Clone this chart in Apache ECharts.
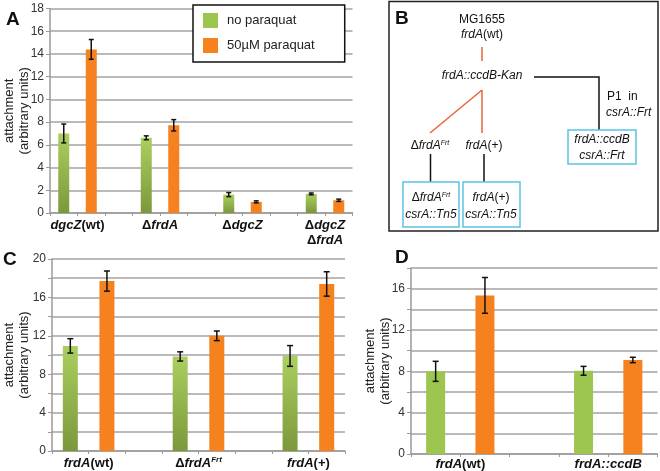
<!DOCTYPE html>
<html style="height: 100%">
<head>
<meta charset="utf-8">
<style type="text/css">
* { margin: 0; padding: 0; }
</style>
</head>
<body style="height: 100%; margin: 0; background: #fff">
<div id="main" style="width: 660px; height: 471px"></div>
<script type="text/javascript" src="https://cdn.jsdelivr.net/npm/echarts@6/dist/echarts.min.js"></script>
<script type="text/javascript">
// ---- data ----
var seriesNames = ['no paraquat', '50\u00b5M paraquat'];

// panel A
var labelsA = ['{bi|dgcZ}{b|(wt)}', '{b|\u0394}{bi|frdA}', '{b|\u0394}{bi|dgcZ}', '{b|\u0394}{bi|dgcZ}\n{b|\u0394}{bi|frdA}'];
var noParaA = [7.0, 6.62, 1.62, 1.68];
var noParaErrA = [0.83, 0.17, 0.18, 0.08];
var paraA = [14.4, 7.72, 0.98, 1.12];
var paraErrA = [0.87, 0.5, 0.09, 0.1];

// panel C
var labelsC = ['{bi|frdA}{b|(wt)}', '{b|\u0394}{bi|frdA}{sup|Frt}', '{bi|frdA}{b|(+)}'];
var noParaC = [10.95, 9.85, 9.9];
var noParaErrC = [0.75, 0.48, 1.08];
var paraC = [17.7, 12.0, 17.4];
var paraErrC = [1.05, 0.5, 1.27];

// panel D
var labelsD = ['{bi|frdA}{b|(wt)}', '{bi|frdA::ccdB}'];
var noParaD = [8.0, 8.05];
var noParaErrD = [0.97, 0.43];
var paraD = [15.35, 9.1];
var paraErrD = [1.73, 0.26];

// ---- helpers ----
var FONT = 'Liberation Sans';
var greenGrad = new echarts.graphic.LinearGradient(0, 0, 0, 1, [
  { offset: 0, color: '#abcf5f' },
  { offset: 1, color: '#7b983b' }
]);
var greenFlat = '#9dc651';
var orange = '#f5811f';

var richX = {
  b: { fontFamily: FONT, fontWeight: 'bold', fontSize: 13, color: '#111', lineHeight: 15 },
  bi: { fontFamily: FONT, fontWeight: 'bold', fontStyle: 'italic', fontSize: 13, color: '#111', lineHeight: 15 },
  sup: { fontFamily: FONT, fontWeight: 'bold', fontStyle: 'italic', fontSize: 8, color: '#111', lineHeight: 8, verticalAlign: 'top' }
};

// slot layout: each group = green slot, orange slot, empty slot
function barData(vals, off) {
  return vals.map(function (v, i) { return [3 * i + off, v]; });
}
function errData(vals, errs, off) {
  return vals.map(function (v, i) { return [3 * i + off, v - errs[i], v + errs[i]]; });
}
function errItem(cap) {
  return function (params, api) {
    var x = api.value(0);
    var p1 = api.coord([x, api.value(2)]);
    var p2 = api.coord([x, api.value(1)]);
    var s = { stroke: '#111', lineWidth: 1.5 };
    return {
      type: 'group',
      children: [
        { type: 'line', shape: { x1: p1[0], y1: p1[1], x2: p2[0], y2: p2[1] }, style: s },
        { type: 'line', shape: { x1: p1[0] - cap, y1: p1[1], x2: p1[0] + cap, y2: p1[1] }, style: s },
        { type: 'line', shape: { x1: p2[0] - cap, y1: p2[1], x2: p2[0] + cap, y2: p2[1] }, style: s }
      ]
    };
  };
}

function xAxisFor(idx, slots, labels, margin) {
  return {
    type: 'value', gridIndex: idx, min: 0, max: slots, interval: 1,
    splitLine: { show: false },
    axisLine: { lineStyle: { color: '#9a9a9a', width: 1.5 } },
    axisTick: { show: true, length: 3, lineStyle: { color: '#9a9a9a' } },
    axisLabel: {
      margin: margin,
      showMinLabel: true, showMaxLabel: true,
      formatter: function (v) {
        if (v % 3 === 1) return labels[(v - 1) / 3] || '';
        return '';
      },
      rich: richX
    }
  };
}
function yAxisFor(idx, max, every, nameGap) {
  return {
    type: 'value', gridIndex: idx, min: 0, max: max, interval: 2,
    name: 'attachment\n(arbitrary units)', nameLocation: 'middle', nameGap: nameGap,
    nameMoveOverlap: false,
    nameTextStyle: { fontFamily: FONT, fontSize: 13, color: '#222', lineHeight: 15 },
    axisLine: { show: true, lineStyle: { color: '#9a9a9a', width: 1.5 } },
    axisTick: { show: true, length: 4, lineStyle: { color: '#9a9a9a' } },
    splitLine: { lineStyle: { color: '#a3a3a3', width: 1.5 } },
    axisLabel: {
      margin: 6, fontFamily: FONT, fontSize: 12, color: '#333',
      formatter: function (v) { return v % every === 0 ? String(v) : ''; }
    }
  };
}

function panelSeries(idx, green, noPara, noErr, para, paraErr, bw, cap) {
  return [
    { name: seriesNames[0], type: 'bar', xAxisIndex: idx, yAxisIndex: idx, barWidth: bw, barGap: '-100%',
      itemStyle: { color: green }, data: barData(noPara, 0.5) },
    { name: seriesNames[1], type: 'bar', xAxisIndex: idx, yAxisIndex: idx, barWidth: bw, barGap: '-100%',
      itemStyle: { color: orange }, data: barData(para, 1.5) },
    { type: 'custom', xAxisIndex: idx, yAxisIndex: idx, z: 5, renderItem: errItem(cap),
      encode: { x: 0, y: [1, 2] }, data: errData(noPara, noErr, 0.5) },
    { type: 'custom', xAxisIndex: idx, yAxisIndex: idx, z: 5, renderItem: errItem(cap),
      encode: { x: 0, y: [1, 2] }, data: errData(para, paraErr, 1.5) }
  ];
}

// ---- panel B diagram ----
var tB = { fontFamily: FONT, fontSize: 12, color: '#111' };
var richB = {
  n: tB,
  i: { fontFamily: FONT, fontSize: 12, color: '#111', fontStyle: 'italic' },
  s: { fontFamily: FONT, fontSize: 7, color: '#111', fontStyle: 'italic', verticalAlign: 'top', lineHeight: 7 }
};
function txt(x, y, text, align) {
  return { type: 'text', x: x, y: y, z: 10,
    style: { text: text, rich: richB, align: align || 'center', verticalAlign: 'middle',
      fontFamily: FONT, fontSize: 12, fill: '#111' } };
}
function seg(x1, y1, x2, y2, color) {
  return { type: 'line', z: 10, shape: { x1: x1, y1: y1, x2: x2, y2: y2 },
    style: { stroke: color, lineWidth: 1.5 } };
}
function box(x, y, w, h, color, lw) {
  return { type: 'rect', z: 10, shape: { x: x, y: y, width: w, height: h },
    style: { fill: 'none', stroke: color, lineWidth: lw } };
}
function letter(x, y, t) {
  return { type: 'text', x: x, y: y, z: 10,
    style: { text: t, fontFamily: FONT, fontWeight: 'bold', fontSize: 19, fill: '#111' } };
}

var red = '#e8643a', blue = '#5cc3e4', blk = '#111';
var graphics = [
  letter(6, 10, 'A'), letter(3, 250, 'C'), letter(395, 248, 'D'), letter(395, 9, 'B'),
  box(389, 1.5, 269, 229.5, '#222', 1.5),
  txt(482, 20, '{n|MG1655}'),
  txt(482, 35, '{i|frdA}{n|(wt)}'),
  seg(482, 47, 482, 61, red),
  txt(482, 76, '{i|frdA::ccdB-Kan}'),
  { type: 'polyline', z: 10, shape: { points: [[534, 77], [599, 77], [599, 130]] },
    style: { stroke: blk, lineWidth: 1.5, fill: null } },
  txt(607, 97, '{n|P1  in}', 'left'),
  txt(606, 113, '{i|csrA::Frt}', 'left'),
  box(568, 130, 68, 34, blue, 1.5),
  txt(602, 140, '{i|frdA::ccdB}'),
  txt(602, 156, '{i|csrA::Frt}'),
  seg(482, 90, 430, 133, red),
  seg(482, 90, 482, 133, red),
  txt(430, 146, '{n|\u0394}{i|frdA}{s|Frt}'),
  txt(484, 146, '{i|frdA}{n|(+)}'),
  seg(430.5, 154, 430.5, 182, blk),
  seg(484, 154, 484, 182, blk),
  box(403, 182, 56, 45, blue, 1.5),
  box(463, 182, 57, 45, blue, 1.5),
  txt(431, 198, '{n|\u0394}{i|frdA}{s|Frt}'),
  txt(431, 215, '{i|csrA::Tn5}'),
  txt(491, 198, '{i|frdA}{n|(+)}'),
  txt(491, 215, '{i|csrA::Tn5}')
];

var chart = echarts.init(document.getElementById('main'), null, { renderer: 'canvas' });
var option = {
  animation: false,
  backgroundColor: '#fff',
  grid: [
    { left: 50, top: 8.5, width: 302.5, height: 204.5, outerBoundsMode: 'none' },
    { left: 52, top: 259, width: 293, height: 192, outerBoundsMode: 'none' },
    { left: 411, top: 268, width: 246.5, height: 186, outerBoundsMode: 'none' }
  ],
  legend: {
    data: [
      { name: seriesNames[0], itemStyle: { color: greenFlat } },
      { name: seriesNames[1], itemStyle: { color: orange } }
    ],
    orient: 'vertical', left: 193, top: 5,
    icon: 'rect', itemWidth: 15, itemHeight: 15, itemGap: 10,
    padding: [8, 30, 9, 10],
    backgroundColor: '#fff', borderColor: '#111', borderWidth: 1.5, borderRadius: 0,
    selectedMode: false,
    textStyle: { fontFamily: FONT, fontSize: 13, color: '#222', padding: [0, 0, 0, 4] }
  },
  xAxis: [
    xAxisFor(0, 11, labelsA, 5),
    xAxisFor(1, 8, labelsC, 5),
    xAxisFor(2, 5, labelsD, 3)
  ],
  yAxis: [
    yAxisFor(0, 18, 2, 18),
    yAxisFor(1, 20, 4, 20),
    yAxisFor(2, 18, 4, 18)
  ],
  series: [].concat(
    panelSeries(0, greenGrad, noParaA, noParaErrA, paraA, paraErrA, 11, 2.5),
    panelSeries(1, greenGrad, noParaC, noParaErrC, paraC, paraErrC, 15, 3),
    panelSeries(2, greenFlat, noParaD, noParaErrD, paraD, paraErrD, 19, 3)
  ),
  graphic: graphics
};
chart.setOption(option);
</script>
</body>
</html>
